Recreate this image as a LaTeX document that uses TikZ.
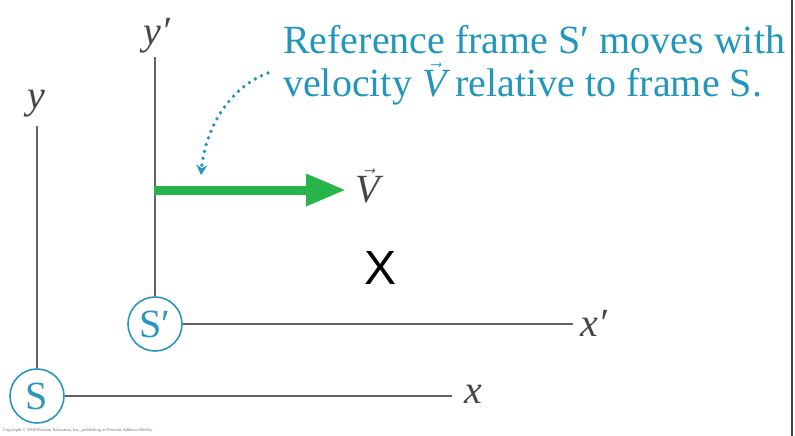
\documentclass[tikz,border=0pt]{standalone}
\usepackage{fontspec}
\setmainfont{Liberation Serif}
\newfontfamily\sansX{Liberation Sans}
\usetikzlibrary{arrows.meta}
\definecolor{axisgray}{RGB}{100,100,100}
\definecolor{labelgray}{RGB}{70,70,70}
\definecolor{noteblue}{RGB}{35,150,190}
\definecolor{circblue}{RGB}{40,150,190}
\definecolor{velgreen}{RGB}{40,180,75}
\begin{document}
\begin{tikzpicture}[x=1pt,y=-1pt,
  axis/.style={draw=axisgray,line width=2.8pt},
  axlabel/.style={text=labelgray,font=\fontsize{40}{40}\selectfont\itshape,inner sep=0pt},
  origin/.style={circle,draw=circblue,line width=1.6pt,minimum size=54pt,inner sep=0pt,text=circblue,font=\fontsize{40}{40}\selectfont},
  note/.style={text=noteblue,font=\fontsize{40}{40}\selectfont,inner sep=0pt,anchor=base west}]
\useasboundingbox (0,0) rectangle (795,436);
\fill[white] (0,0) rectangle (795,436);
% right border
\draw[line width=2pt,black!75] (792,0) -- (792,436);
% frame S
\node[origin] (S) at (37,396) {S};
\coordinate (ytop) at (37,126);
\coordinate (xend) at (452,396);
\draw[axis] (S.north) -- (ytop);
\draw[axis] (S.east) -- (xend);
\node[axlabel] (ylab) at (36,104) {y};
\node[axlabel] (xlab) at (473,394) {x};
% frame S'
\node[origin] (Sp) at (155,324) {S′};
\coordinate (yptop) at (155,57);
\coordinate (xpend) at (573,324);
\draw[axis] (Sp.north) -- (yptop);
\draw[axis] (Sp.east) -- (xpend);
\node[axlabel] (yplab) at (157,36) {y′};
\node[axlabel] (xplab) at (594,323) {x′};
% velocity arrow
\coordinate (vstart) at (154,190);
\coordinate (vend) at (346,190);
\draw[velgreen,line width=9pt,-{Triangle[length=40pt,width=30pt]}] (vstart) -- (vend);
\node[text=labelgray,font=\fontsize{40}{40}\selectfont,inner sep=0pt] (Vlab) at (368,186) {$\vec{\mbox{\itshape V}}$};
% note
\node[note] (n1) at (283,54) {Reference frame S′ moves with};
\node[note] (n2) at (283,96) {velocity $\vec{\mbox{\itshape V}}$\kern-1pt\ relative to frame S.};
\coordinate (dstart) at (268,73);
\coordinate (dend) at (201,175);
\draw[noteblue,line width=3.8pt,line cap=round,dash pattern=on 0pt off 7pt,-{Stealth[length=10pt,width=11pt]}] (dstart) .. controls (228,88) and (205,130) .. (dend);
% big X
\node[font=\sansX\fontsize{48}{48}\selectfont,inner sep=0pt] (X) at (381,268) {X};
% copyright
\node[anchor=west,text=black!55,font=\fontsize{4.5}{5}\selectfont,inner sep=0pt] (copy) at (3,430) {Copyright © 2008 Pearson Education, Inc., publishing as Pearson Addison-Wesley.};
\end{tikzpicture}
\end{document}
